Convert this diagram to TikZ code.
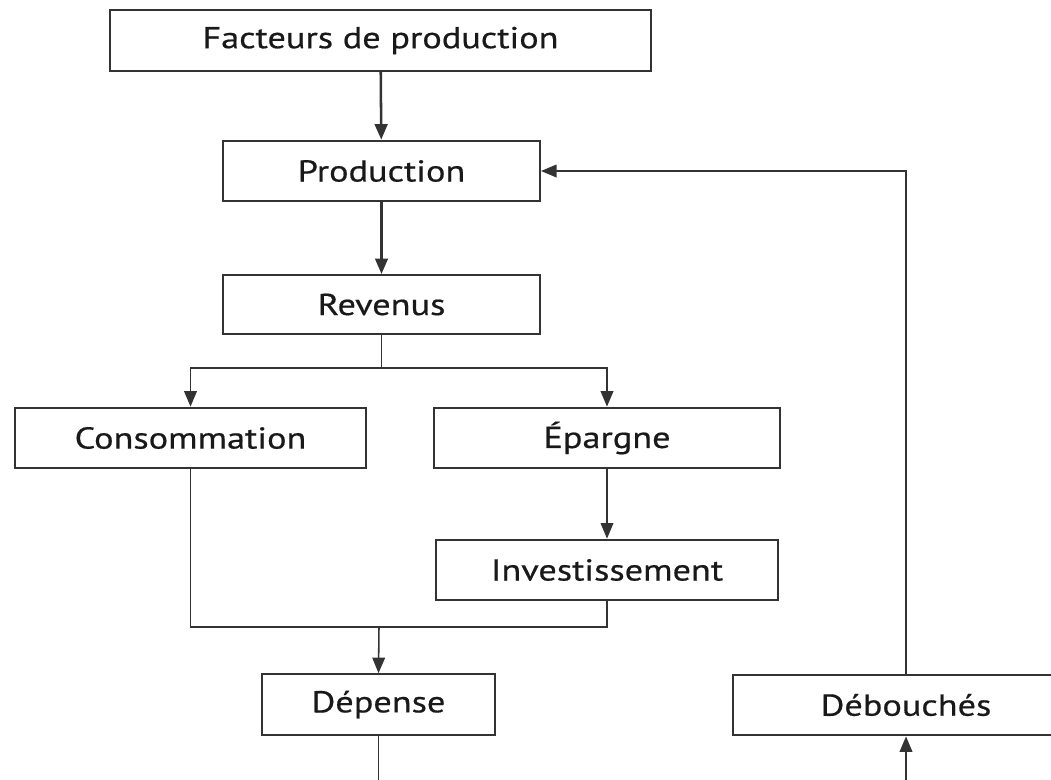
\documentclass[tikz,border=0pt]{standalone}
\usepackage{fontspec}
\setmainfont[FakeStretch=1.2, FakeBold=0.5]{PT Sans}
\usepackage{tikz}
\usetikzlibrary{arrows.meta, calc, positioning}

\tikzset{
  box/.style={draw=black!80, line width=1.4pt, fill=white, inner sep=0pt,
    minimum height=1.52cm, font=\fontsize{21.5}{24}\selectfont, text=black!90},
  arr/.style={-{Triangle[length=11pt,width=9pt]}, line width=1.1pt, draw=black!80},
  ln/.style={line width=1.1pt, draw=black!80}
}

\begin{document}
\begin{tikzpicture}[x=0.025cm, y=-0.025cm]
	\clip (0,0) rectangle (1051,779);
	\fill[white] (0,0) rectangle (1051,779);

	% chain at the top
	\node[box, minimum width=13.525cm] (fact) at (380.5,40.5) {Facteurs de production};
	\node[box, minimum width=7.925cm] (prod) at (381.5,171) {Production};
	\node[box, minimum width=7.925cm, minimum height=1.475cm] (rev) at (381.5,304.5) {Revenus};
	\draw[arr, line width=1.8pt] (fact) -- (prod);
	\draw[arr, line width=1.8pt] (prod) -- (rev);

	% split of incomes
	\coordinate (split) at (381.5,368);
	\node[box, minimum width=8.775cm] (cons) at (190.5,438) {Consommation};
	\node[box, minimum width=8.625cm] (epar) at (607,438) {Épargne};
	\node[box, minimum width=8.525cm] (inv) at (607,570) {Investissement};
	\draw[ln] (rev.south) -- (split);
	\draw[arr] (split) -| (cons.north);
	\draw[arr] (split) -| (epar.north);
	\draw[arr, line width=0.9pt] (epar) -- (inv);

	% spending
	\coordinate (merge) at (379,627);
	\node[box, minimum width=5.825cm] (dep) at (378.5,704.5) {Dépense};
	\draw[ln] (cons.south) |- (merge);
	\draw[ln] (inv.south) |- (merge);
	\draw[arr] (merge) -- (dep.north);

	% outlets and feedback
	\node[box, minimum width=8.65cm] (deb) at (906,705) {Débouchés};
	\draw[arr, line width=0.9pt] (deb.north) |- (prod.east);
	\coordinate (low) at (640,820);
	\draw[arr] (dep.south) |- (low) -| (deb.south);
\end{tikzpicture}
\end{document}
